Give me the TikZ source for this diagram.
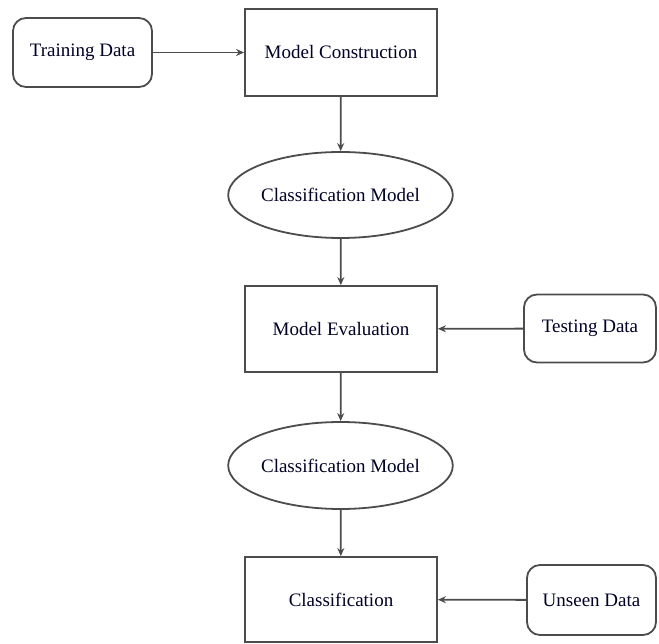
\documentclass[tikz,border=0pt]{standalone}
\usepackage{fontspec}
\newfontfamily\timesfont{Liberation Serif}
\usetikzlibrary{shapes.geometric,arrows.meta}

\begin{document}
\begin{tikzpicture}[x=1pt, y=-1pt,
		every node/.style={font=\timesfont\fontsize{19}{23}\selectfont, text=black!85!blue, line width=1.8pt, draw=black!70, inner sep=0pt},
		datanode/.style={rectangle, rounded corners=13pt, minimum width=#1, minimum height=69pt},
		stepnode/.style={rectangle, minimum width=192pt, minimum height=86pt},
		modelnode/.style={ellipse, minimum width=209pt, minimum height=86pt},
		flow/.style={-{Stealth[length=8pt,width=7pt]}, line width=1.8pt, draw=black!70}]
		\useasboundingbox (0,0) rectangle (659,644);
		\node[datanode=139pt] (train) at (82.5,52.5) {Training Data};
		\node[stepnode, minimum height=87pt] (construct) at (341,52.5) {Model Construction};
		\node[modelnode] (model1) at (340.5,195) {Classification Model};
		\node[stepnode] (evaluate) at (341,329) {Model Evaluation};
		\node[datanode=132pt, minimum height=68pt] (test) at (590,328.5) {Testing Data};
		\node[modelnode, minimum height=87pt] (model2) at (340.5,465.5) {Classification Model};
		\node[stepnode, minimum height=85pt] (classify) at (341,599.5) {Classification};
		\node[datanode=129pt, minimum height=70pt] (unseen) at (591.5,600) {Unseen Data};
		
		\draw[flow] (train) to node[draw=none] {} (construct);
		\draw[flow] (construct) to node[draw=none] {} (model1);
		\draw[flow] (model1) to node[draw=none] {} (evaluate);
		\draw[flow] (test) to node[draw=none] {} (evaluate);
		\draw[flow] (evaluate) to node[draw=none] {} (model2);
		\draw[flow] (model2) to node[draw=none] {} (classify);
		\draw[flow] (unseen) to node[draw=none] {} (classify);
		
	\end{tikzpicture}
\end{document}
